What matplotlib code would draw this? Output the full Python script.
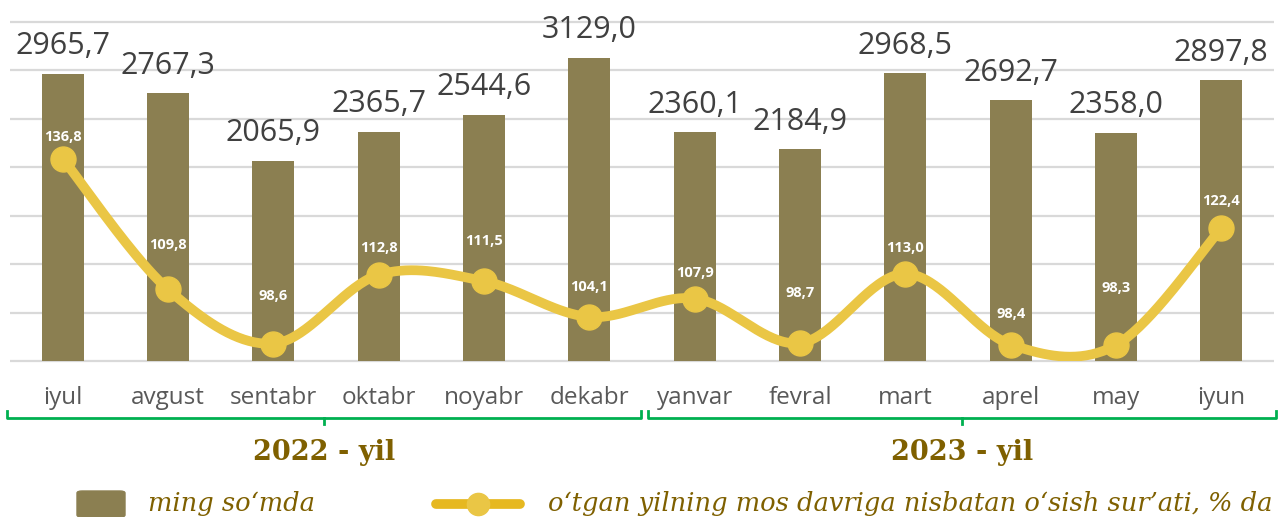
import numpy as np
import matplotlib.pyplot as plt
from matplotlib.patches import FancyBboxPatch
from matplotlib.lines import Line2D

months = ['iyul', 'avgust', 'sentabr', 'oktabr', 'noyabr', 'dekabr',
          'yanvar', 'fevral', 'mart', 'aprel', 'may', 'iyun']
amount = [2965.7, 2767.3, 2065.9, 2365.7, 2544.6, 3129.0,
          2360.1, 2184.9, 2968.5, 2692.7, 2358.0, 2897.8]
growth = [136.8, 109.8, 98.6, 112.8, 111.5, 104.1,
          107.9, 98.7, 113.0, 98.4, 98.3, 122.4]
years = ['2022 - yil', '2023 - yil']
legend_bar = 'ming so‘mda'
legend_line = 'o‘tgan yilning mos davriga nisbatan o‘sish sur’ati, % da'

bar_c = '#8B7F51'
line_c = '#EAC645'
gold_txt = '#7F6000'

# label offsets above markers (px)
lab_off = [22, 44, 48, 27, 40, 30, 26, 50, 26, 31, 57, 27]

W, H = 1280, 517
def fx(px): return px / W
def fy(py): return 1 - py / H

fig = plt.figure(figsize=(12.8, 5.17), dpi=100)
ax = fig.add_axes([fx(10), fy(361), fx(1274) - fx(10), fy(22) - fy(361)])
x = np.arange(len(months))

ax.set_xlim(-0.5, 11.5)
ax.set_ylim(0, 3500)
ax.hlines(np.arange(0, 3501, 500), -0.5, 11.5, color='#D9D9D9', lw=1.6, zorder=0, clip_on=False)
ax.bar(x, amount, width=0.4, color=bar_c, zorder=2)
for s in ax.spines.values():
    s.set_visible(False)
ax.set_xticks(x)
ax.set_xticklabels(months, fontsize=17.5, color='#595959', family='Open Sans')

for xi, v in zip(x, amount):
    ax.annotate(f'{v:.1f}'.replace('.', ','), (xi, v), xytext=(0, 14),
                textcoords='offset points', ha='center', va='baseline',
                fontsize=22, color='#404040', family='Open Sans')

# line on secondary axis, smoothed like excel
ax2 = ax.twinx()
ax2.set_ylim(95, 165)
ax2.axis('off')
ax.set_yticks([])
ax.tick_params(axis='x', length=0, pad=18)

g = np.array(growth)
P = np.column_stack([x, g]).astype(float)
P = np.vstack([P[0], P, P[-1]])
xs, ys = [], []
t = np.linspace(0, 1, 40)
for i in range(1, len(P) - 2):
    p0, p1, p2, p3 = P[i - 1], P[i], P[i + 1], P[i + 2]
    c1 = p1 + (p2 - p0) / 6
    c2 = p2 - (p3 - p1) / 6
    pts = ((1 - t) ** 3)[:, None] * p1 + (3 * (1 - t) ** 2 * t)[:, None] * c1 \
        + (3 * (1 - t) * t ** 2)[:, None] * c2 + (t ** 3)[:, None] * p2
    xs.extend(pts[:, 0]); ys.extend(pts[:, 1])
ax2.plot(xs, ys, color=line_c, lw=7, solid_capstyle='round', zorder=3)
ax2.plot(x, g, 'o', color=line_c, ms=18, zorder=4)
for xi, v, o in zip(x, growth, lab_off):
    ax2.annotate(f'{v:.1f}'.replace('.', ','), (xi, v), xytext=(0, o * 0.72),
                 textcoords='offset points', ha='center', va='center',
                 fontsize=10.5, color='white', fontweight='bold', family='Open Sans', zorder=5)

# year brackets
for (x0, x1), lab in zip([(7, 641), (648, 1276)], years):
    xm = (x0 + x1) / 2
    xx = [fx(x0), fx(x0), fx(x1), fx(x1)]
    yy = [fy(411), fy(418), fy(418), fy(411)]
    fig.add_artist(Line2D(xx, yy, color='#00B050', lw=2))
    fig.add_artist(Line2D([fx(xm), fx(xm)], [fy(418), fy(424)], color='#00B050', lw=2))
    fig.text(fx(xm), fy(452), lab, ha='center', va='center', fontsize=19.5,
             fontweight='bold', family='DejaVu Serif', color=gold_txt)

# legend
fig.add_artist(FancyBboxPatch((fx(77), fy(517)), fx(125) - fx(77), fy(491) - fy(517),
                              boxstyle='round,pad=0,rounding_size=0.004', color=bar_c))
fig.text(fx(148), fy(503), legend_bar, ha='left', va='center', fontsize=18.5,
         style='italic', family='DejaVu Serif', color=gold_txt)
fig.add_artist(Line2D([fx(436), fx(520)], [fy(504), fy(504)], color='#E6B820', lw=7,
                      solid_capstyle='round'))
fig.add_artist(Line2D([fx(478)], [fy(504)], marker='o', ms=16, color=line_c, lw=0))
fig.text(fx(548), fy(503), legend_line, ha='left', va='center', fontsize=18.5,
         style='italic', family='DejaVu Serif', color=gold_txt)

plt.savefig('out.png', dpi=100)
